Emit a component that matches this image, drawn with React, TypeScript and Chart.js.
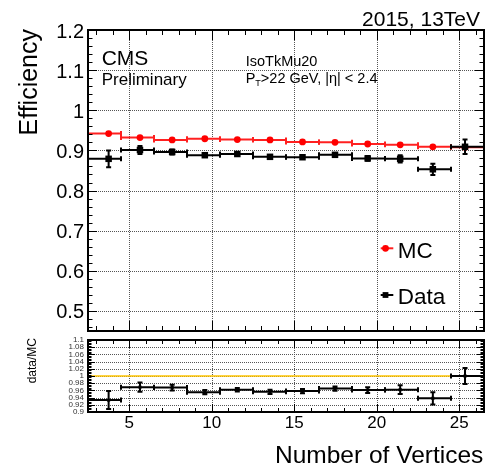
import React, { useEffect, useRef } from "react";
import { Chart, registerables } from "chart.js";

Chart.register(...registerables);

// ---------- data ----------
const binEdges = [2.5, 4.5, 6.5, 8.5, 10.5, 12.5, 14.5, 16.5, 18.5, 20.5, 22.5, 24.5, 26.5];
const pointX = [3.75, 5.65, 7.6, 9.58, 11.55, 13.53, 15.5, 17.47, 19.45, 21.42, 23.4, 25.35];
const mcEff = [0.942, 0.932, 0.926, 0.929, 0.927, 0.926, 0.921, 0.92, 0.916, 0.914, 0.909, 0.908];
const mcErr = [0.002, 0.001, 0.001, 0.001, 0.001, 0.001, 0.001, 0.001, 0.001, 0.001, 0.001, 0.001];
const dataEff = [0.879, 0.901, 0.896, 0.888, 0.891, 0.884, 0.883, 0.889, 0.88, 0.879, 0.853, 0.909];
const dataErr = [0.021, 0.01, 0.006, 0.004, 0.004, 0.004, 0.004, 0.004, 0.006, 0.009, 0.014, 0.018];
const ratioVal = [0.933, 0.969, 0.968, 0.955, 0.962, 0.956, 0.958, 0.965, 0.961, 0.962, 0.938, 1.0];
const ratioErr = [0.025, 0.013, 0.008, 0.006, 0.005, 0.006, 0.006, 0.006, 0.008, 0.012, 0.017, 0.022];

const xMajorTicks = [5, 10, 15, 20, 25];
const xTickLabels = ["5", "10", "15", "20", "25"];
const effTicks = [0.5, 0.6, 0.7, 0.8, 0.9, 1.0, 1.1, 1.2];
const effTickLabels = ["0.5", "0.6", "0.7", "0.8", "0.9", "1", "1.1", "1.2"];
const ratioTicks = [0.9, 0.92, 0.94, 0.96, 0.98, 1.0, 1.02, 1.04, 1.06, 1.08, 1.1];
const ratioTickLabels = ["0.9", "0.92", "0.94", "0.96", "0.98", "1", "1.02", "1.04", "1.06", "1.08", "1.1"];

const seriesLabels = ["Data", "MC"];
const FONT = '"Liberation Sans", Arial, Helvetica, sans-serif';

// minor tick helpers (axis decoration only)
function range(a: number, b: number, step: number) {
  const out: number[] = [];
  for (let v = a; v <= b + 1e-9; v += step) out.push(Math.round(v * 10000) / 10000);
  return out;
}
const xMinorTicks = range(3, 26, 1).filter((v) => v % 5 !== 0);

function font(size: number) {
  return `${size}px ${FONT}`;
}

const errorBarPlugin = {
  id: "errorBars",
  beforeDatasetDraw(chart: any, args: any) {
    const ds = chart.data.datasets[args.index];
    if (!ds.yErr) return;
    const { ctx, chartArea: ca } = chart;
    const x = chart.scales.x;
    const y = chart.scales.y;
    ctx.save();
    ctx.beginPath();
    ctx.rect(ca.left, ca.top, ca.right - ca.left, ca.bottom - ca.top);
    ctx.clip();
    ctx.strokeStyle = ds.errColor;
    ctx.lineWidth = ds.errWidth;
    const cap = ds.capSize;
    ds.data.forEach((p: any, i: number) => {
      const px = x.getPixelForValue(p.x);
      const py = y.getPixelForValue(p.y);
      const xl = x.getPixelForValue(binEdges[i]);
      const xr = x.getPixelForValue(binEdges[i + 1]);
      const yt = y.getPixelForValue(p.y + ds.yErr[i]);
      const yb = y.getPixelForValue(p.y - ds.yErr[i]);
      ctx.beginPath();
      ctx.moveTo(xl, py);
      ctx.lineTo(xr, py);
      ctx.moveTo(xl, py - cap);
      ctx.lineTo(xl, py + cap);
      ctx.moveTo(xr, py - cap);
      ctx.lineTo(xr, py + cap);
      if (yb - yt > 2) {
        ctx.moveTo(px, yt);
        ctx.lineTo(px, yb);
        ctx.moveTo(px - cap, yt);
        ctx.lineTo(px + cap, yt);
        ctx.moveTo(px - cap, yb);
        ctx.lineTo(px + cap, yb);
      }
      ctx.stroke();
    });
    ctx.restore();
  },
};

function makeFramePlugin(cfg: any) {
  return {
    id: "rootFrame",
    beforeDatasetsDraw(chart: any) {
      const { ctx, chartArea: ca } = chart;
      const x = chart.scales.x;
      const y = chart.scales.y;
      ctx.save();
      ctx.strokeStyle = "#555";
      ctx.lineWidth = 1;
      ctx.setLineDash([1, 1]);
      ctx.beginPath();
      xMajorTicks.forEach((v) => {
        const p = Math.round(x.getPixelForValue(v)) + 0.5;
        ctx.moveTo(p, ca.top);
        ctx.lineTo(p, ca.bottom);
      });
      cfg.yGrid.forEach((v: number) => {
        const p = Math.round(y.getPixelForValue(v)) + 0.5;
        ctx.moveTo(ca.left, p);
        ctx.lineTo(ca.right, p);
      });
      ctx.stroke();
      ctx.setLineDash([]);
      if (cfg.unity != null) {
        const p = y.getPixelForValue(cfg.unity);
        ctx.strokeStyle = "#ffc400";
        ctx.lineWidth = 1.5;
        ctx.beginPath();
        ctx.moveTo(ca.left, p);
        ctx.lineTo(ca.right, p);
        ctx.stroke();
      }
      ctx.restore();
    },
    afterDatasetsDraw(chart: any) {
      const { ctx, chartArea: ca } = chart;
      const x = chart.scales.x;
      const y = chart.scales.y;
      ctx.save();
      ctx.strokeStyle = "#000";
      ctx.lineWidth = 1;
      ctx.beginPath();
      const xt = (vals: number[], len: number) =>
        vals.forEach((v) => {
          const p = Math.round(x.getPixelForValue(v)) + 0.5;
          ctx.moveTo(p, ca.bottom);
          ctx.lineTo(p, ca.bottom - len);
          ctx.moveTo(p, ca.top);
          ctx.lineTo(p, ca.top + len);
        });
      const yt = (vals: number[], len: number) =>
        vals.forEach((v) => {
          const p = Math.round(y.getPixelForValue(v)) + 0.5;
          ctx.moveTo(ca.left, p);
          ctx.lineTo(ca.left + len, p);
          ctx.moveTo(ca.right, p);
          ctx.lineTo(ca.right - len, p);
        });
      xt(xMajorTicks, cfg.xMajLen);
      xt(xMinorTicks, cfg.xMinLen);
      yt(cfg.yMajor, cfg.yMajLen);
      yt(cfg.yMinor, cfg.yMinLen);
      ctx.stroke();
      ctx.lineWidth = 2;
      ctx.strokeRect(ca.left, ca.top, ca.right - ca.left, ca.bottom - ca.top);
      ctx.restore();
    },
  };
}

const topTextPlugin = {
  id: "topText",
  afterDraw(chart: any) {
    const ctx = chart.ctx;
    ctx.save();
    ctx.fillStyle = "#000";
    ctx.textBaseline = "alphabetic";

    ctx.font = font(21);
    ctx.textAlign = "right";
    ctx.fillText("2015, 13TeV", 480, 26);

    ctx.save();
    ctx.translate(36.8, 29);
    ctx.rotate(-Math.PI / 2);
    ctx.font = font(25);
    ctx.textAlign = "right";
    ctx.fillText("Efficiency", 0, 0);
    ctx.restore();

    ctx.textAlign = "left";
    ctx.font = font(21);
    ctx.fillText("CMS", 101.7, 65);
    ctx.font = font(17);
    ctx.fillText("Preliminary", 101.7, 84.5);

    ctx.font = font(14.5);
    ctx.fillText("IsoTkMu20", 245.7, 66);
    let xx = 245.7;
    ctx.fillText("P", xx, 83);
    xx += ctx.measureText("P").width;
    ctx.font = font(9);
    ctx.fillText("T", xx, 85.5);
    xx += ctx.measureText("T").width;
    ctx.font = font(14.5);
    ctx.fillText(">22 GeV, |\u03b7| < 2.4", xx, 83);

    // legend
    const ds = chart.data.datasets;
    const mc = ds[1];
    const dt = ds[0];
    ctx.lineWidth = 2;
    ctx.strokeStyle = mc.errColor;
    ctx.beginPath();
    ctx.moveTo(380.7, 248.3);
    ctx.lineTo(393.3, 248.3);
    ctx.stroke();
    ctx.fillStyle = "#ff0000";
    ctx.beginPath();
    ctx.arc(385.5, 248.3, 3.4, 0, Math.PI * 2);
    ctx.fill();
    ctx.strokeStyle = "#000";
    ctx.beginPath();
    ctx.moveTo(380.7, 295);
    ctx.lineTo(393.3, 295);
    ctx.stroke();
    ctx.fillStyle = "#000";
    ctx.fillRect(385.5 - 2.9, 295 - 2.9, 5.8, 5.8);
    ctx.font = font(22.5);
    ctx.fillText(mc.label, 397.7, 257.7);
    ctx.fillText(dt.label, 397.7, 304);
    ctx.restore();
  },
};

const bottomTextPlugin = {
  id: "bottomText",
  afterDraw(chart: any) {
    const ctx = chart.ctx;
    ctx.save();
    ctx.fillStyle = "#000";
    ctx.textBaseline = "alphabetic";
    ctx.save();
    ctx.translate(35.5, 2);
    ctx.rotate(-Math.PI / 2);
    ctx.font = font(12);
    ctx.textAlign = "right";
    ctx.fillText("data/MC", 0, 0);
    ctx.restore();
    ctx.font = font(24.5);
    ctx.textAlign = "right";
    ctx.fillText("Number of Vertices", 483.3, 126.5);
    ctx.restore();
  },
};

export default function App() {
  const topRef = useRef<HTMLCanvasElement>(null);
  const botRef = useRef<HTMLCanvasElement>(null);

  useEffect(() => {
    const topFrame = makeFramePlugin({
      yGrid: effTicks.filter((v) => v < 1.19),
      yMajor: effTicks,
      yMinor: range(0.46, 1.18, 0.02).filter((v) => Math.abs(v * 10 - Math.round(v * 10)) > 1e-6),
      xMajLen: 10,
      xMinLen: 5,
      yMajLen: 9,
      yMinLen: 4.5,
    });
    const botFrame = makeFramePlugin({
      yGrid: ratioTicks.filter((v) => v > 0.901 && v < 1.099),
      yMajor: ratioTicks,
      yMinor: range(0.9, 1.1, 0.004),
      xMajLen: 8,
      xMinLen: 4,
      yMajLen: 7,
      yMinLen: 3.5,
      unity: 1.0,
    });

    const c1 = new Chart(topRef.current as HTMLCanvasElement, {
      type: "scatter",
      data: {
        datasets: [
          {
            label: seriesLabels[0],
            data: pointX.map((x, i) => ({ x, y: dataEff[i] })),
            yErr: dataErr,
            errColor: "#000",
            errWidth: 2,
            capSize: 2.5,
            pointStyle: "rect",
            pointRadius: 4.6,
            pointBackgroundColor: "#000",
            pointBorderWidth: 0,
            showLine: false,
          } as any,
          {
            label: seriesLabels[1],
            data: pointX.map((x, i) => ({ x, y: mcEff[i] })),
            yErr: mcErr,
            errColor: "#ff2020",
            errWidth: 2,
            capSize: 2.5,
            pointStyle: "circle",
            pointRadius: 3.4,
            pointBackgroundColor: "#ff0000",
            pointBorderWidth: 0,
            showLine: false,
          } as any,
        ],
      },
      options: {
        responsive: false,
        maintainAspectRatio: false,
        animation: false,
        events: [],
        layout: { padding: { left: 0, right: 15, top: 30, bottom: 5 } },
        plugins: { legend: { display: false }, tooltip: { enabled: false } },
        scales: {
          x: { type: "linear", min: 2.5, max: 26.5, display: false },
          y: {
            type: "linear",
            min: 0.45,
            max: 1.2,
            grid: { display: false, drawTicks: false },
            border: { display: false },
            afterBuildTicks: (s: any) => {
              s.ticks = effTicks.map((v) => ({ value: v }));
            },
            afterFit: (s: any) => {
              s.width = 88;
              s.paddingTop = 0;
              s.paddingBottom = 0;
            },
            ticks: {
              autoSkip: false,
              font: { family: FONT, size: 20 },
              color: "#000",
              padding: 4,
              labelOffset: 2,
              callback: (_v: any, i: number) => effTickLabels[i],
            },
          },
        },
      } as any,
      plugins: [topFrame, errorBarPlugin, topTextPlugin],
    });

    const c2 = new Chart(botRef.current as HTMLCanvasElement, {
      type: "scatter",
      data: {
        datasets: [
          {
            label: "data/MC",
            data: pointX.map((x, i) => ({ x, y: ratioVal[i] })),
            yErr: ratioErr,
            errColor: "#000",
            errWidth: 2,
            capSize: 2.5,
            pointStyle: "rect",
            pointRadius: 2.2,
            pointBackgroundColor: "#000",
            pointBorderWidth: 0,
            showLine: false,
          } as any,
        ],
      },
      options: {
        responsive: false,
        maintainAspectRatio: false,
        animation: false,
        events: [],
        layout: { padding: { left: 0, right: 15, top: 2.5, bottom: 0 } },
        plugins: { legend: { display: false }, tooltip: { enabled: false } },
        scales: {
          x: {
            type: "linear",
            min: 2.5,
            max: 26.5,
            grid: { display: false, drawTicks: false },
            border: { display: false },
            afterBuildTicks: (s: any) => {
              s.ticks = xMajorTicks.map((v) => ({ value: v }));
            },
            afterFit: (s: any) => {
              s.height = 59;
              s.paddingLeft = 0;
              s.paddingRight = 0;
            },
            ticks: {
              autoSkip: false,
              maxRotation: 0,
              font: { family: FONT, size: 17 },
              color: "#000",
              padding: 1.5,
              callback: (_v: any, i: number) => xTickLabels[i],
            },
          },
          y: {
            type: "linear",
            min: 0.9,
            max: 1.1,
            grid: { display: false, drawTicks: false },
            border: { display: false },
            afterBuildTicks: (s: any) => {
              s.ticks = ratioTicks.map((v) => ({ value: v }));
            },
            afterFit: (s: any) => {
              s.width = 88;
              s.paddingTop = 0;
              s.paddingBottom = 0;
            },
            ticks: {
              autoSkip: false,
              font: { family: FONT, size: 8, lineHeight: 1 },
              color: "#333",
              padding: 4,
              callback: (_v: any, i: number) => ratioTickLabels[i],
            },
          },
        },
      } as any,
      plugins: [botFrame, errorBarPlugin, bottomTextPlugin],
    });

    return () => {
      c1.destroy();
      c2.destroy();
    };
  }, []);

  return (
    <div
      style={{
        position: "absolute",
        left: 0,
        top: 0,
        width: 499,
        height: 471,
        background: "#fff",
        overflow: "hidden",
      }}
    >
      <canvas
        ref={topRef}
        width={499}
        height={336}
        style={{ position: "absolute", left: 0, top: 0, width: 499, height: 336 }}
      />
      <canvas
        ref={botRef}
        width={499}
        height={135}
        style={{ position: "absolute", left: 0, top: 336, width: 499, height: 135 }}
      />
    </div>
  );
}
